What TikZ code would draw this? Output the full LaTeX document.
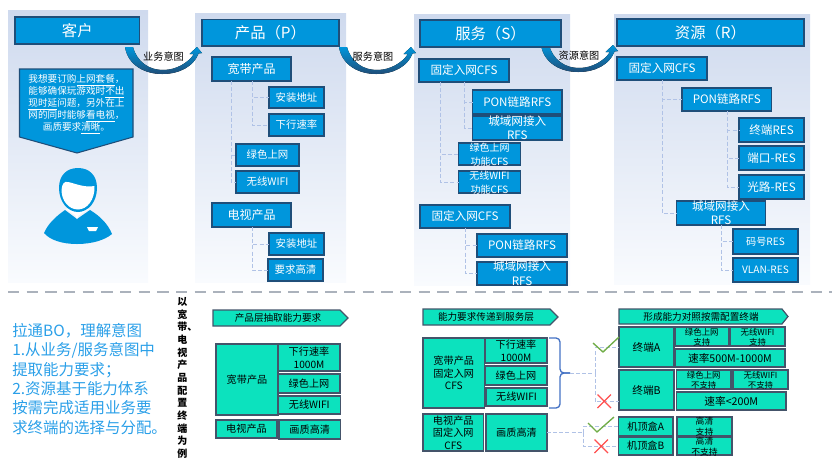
\documentclass[tikz,border=0pt]{standalone}
\usepackage{fontspec}
\setmainfont{Noto Sans CJK SC}
\usetikzlibrary{calc}
\definecolor{bluebox}{HTML}{0096DC}
\definecolor{blueedge}{HTML}{1F4E79}
\definecolor{panelt}{HTML}{CFDAEE}
\definecolor{panelb}{HTML}{F9FBFE}
\definecolor{conn}{HTML}{B0C2E6}
\definecolor{tealbox}{HTML}{0CE2BE}
\definecolor{tealedge}{HTML}{44546A}
\definecolor{lefttext}{HTML}{2A9FE8}
\definecolor{braceblue}{HTML}{4472C4}
\definecolor{okgreen}{HTML}{70AD47}
\definecolor{nored}{HTML}{FF5050}
\newcommand{\fs}[1]{\fontsize{#1}{#1}\selectfont}
% two lines that may overflow the box: does not enlarge it
\newcommand{\tl}[3]{\makebox[0pt]{\raisebox{-2pt}[0pt][0pt]{\parbox[c]{200pt}{\centering\setlength{\baselineskip}{#1}#2\\#3}}}}
\newcommand{\tll}[4]{\makebox[0pt]{\raisebox{-2pt}[0pt][0pt]{\parbox[c]{200pt}{\centering\setlength{\baselineskip}{#1}#2\\#3\\#4}}}}
\newcommand{\bx}[7][]{\node[#2,#1,minimum width={(#5-#3)*0.75pt},minimum height={(#6-#4)*0.75pt}] (#7) at ({(#3+#5)/2},{(#4+#6)/2})}
\newcommand{\blockarrow}[2]{\begin{scope}[shift={(#1,#2)}]
\fill[top color=bluebox,bottom color=blueedge,draw=none]
 (125,47) .. controls (128,66) and (146,74) .. (162,74) .. controls (180,74) and (194,66) .. (198.5,53.5)
 -- (202,53) -- (197,47) -- (189.5,54) -- (194,54) .. controls (188,63) and (176,70) .. (163,70) .. controls (149,70) and (137,62) .. (133,47) -- cycle;
\end{scope}}
\tikzset{
 bluenode/.style={draw=blueedge,line width=.8pt,fill=bluebox,text=white,inner sep=0pt,outer sep=0pt},
 tealnode/.style={draw=tealedge,line width=.9pt,fill=tealbox,text=black,inner sep=0pt,outer sep=0pt},
 panel/.style={top color=panelt,bottom color=panelb,draw=none},
 dashconn/.style={draw=conn,dash pattern=on 3pt off 1.6pt,line width=.75pt},
 arrowlabel/.style={text=black,font=\fs{7.6pt},inner sep=0pt},
 banner/.style={draw=tealedge,line width=.9pt,fill=tealbox},
 bannertext/.style={text=black,font=\fs{7.2pt},inner sep=0pt},
}
\begin{document}
\begin{tikzpicture}[x=0.75pt,y=-0.75pt]
\useasboundingbox (0,0) rectangle (832,462);
% panels
\fill[panel] (8,10) rectangle (148,282);
\fill[panel] (195,13) rectangle (346,282);
\fill[panel] (414,14) rectangle (570,285);
\fill[panel] (614,14) rectangle (810,284);
% customer
\bx[font=\fs{11.5pt}]{bluenode}{15}{17}{139.5}{44}{kh} {客户};
\draw[blueedge,line width=.8pt,fill=bluebox] (19.5,69) -- (133,69) -- (133,137) -- (77,153) -- (19.5,137) -- cycle;
\node[text=white,font=\fs{7.2pt},inner sep=0pt] (sptext) at (76.5,104.5) {\parbox[c]{110pt}{\centering\setlength{\baselineskip}{9pt}我想要订购\underline{上网套餐}，\\能够确保玩游戏时\underline{不出}\\\underline{现时延}问题，另外在上\\网的同时能够\underline{看电视}，\\画质要求\underline{清晰}。}};
% person
\fill[bluebox] (44,233) .. controls (48,224) and (55,217) .. (65,210) -- (77,219) -- (90,210) .. controls (100,216) and (108,224) .. (112,234) .. controls (105,240) and (92,244) .. (77,244) .. controls (62,244) and (50,240) .. (44,233) -- cycle;
\fill[white] (65.5,209) -- (72,207) -- (82,207) -- (89,209) -- (77,216.5) -- cycle;
\fill[white] (77,219) -- (75,214) -- (79,214) -- cycle;
\fill[bluebox] (59,188) .. controls (59,175) and (67,168) .. (78,168) .. controls (89,168) and (97,175) .. (97,188) .. controls (97,202) and (88,212) .. (78,212) .. controls (68,212) and (59,202) .. (59,188) -- cycle;
\fill[white] (61.5,190) .. controls (62,184) and (64,181) .. (68,182) .. controls (74,183) and (84,188) .. (94.5,186) .. controls (95,200) and (87,209.5) .. (78,209.5) .. controls (69,209.5) and (61.5,201) .. (61.5,190) -- cycle;
\fill[white] (87,227) -- (98,227) -- (96,231) -- (89,231) -- cycle;
% block arrows
\blockarrow{0}{0}
\blockarrow{214}{0}
\blockarrow{416}{-2}
\node[arrowlabel] (l1) at (163.5,57) {业务意图};
\node[arrowlabel] (l2) at (373,57) {服务意图};
\node[arrowlabel] (l3) at (579,56) {资源意图};
% product column
\bx[font=\fs{11.5pt}]{bluenode}{202}{19.5}{339}{46}{cp}{产品（P）};
\bx[font=\fs{9pt}]{bluenode}{212}{57}{291}{81}{pw}{宽带产品};
\bx[font=\fs{7.8pt}]{bluenode}{269}{87}{324}{108}{pa}{安装地址};
\bx[font=\fs{7.8pt}]{bluenode}{269}{114}{324}{136}{ps}{下行速率};
\bx[font=\fs{7.8pt}]{bluenode}{236}{144}{299}{166}{pg}{绿色上网};
\bx[font=\fs{7.8pt}]{bluenode}{236}{171}{299}{193}{pf}{无线WIFI};
\bx[font=\fs{9pt}]{bluenode}{212}{203}{291}{227}{pt}{电视产品};
\bx[font=\fs{7.8pt}]{bluenode}{269}{233}{324}{255}{pa2}{安装地址};
\bx[font=\fs{7.8pt}]{bluenode}{268}{259}{323}{281}{ph}{要求高清};
\draw[dashconn] ([xshift=19*.75pt]pw.south west) |- (pg.west);
\draw[dashconn] ([xshift=19*.75pt]pw.south west) |- (pf.west);
\draw[dashconn] ([xshift=40*.75pt]pw.south west) |- (pa.west);
\draw[dashconn] ([xshift=40*.75pt]pw.south west) |- (ps.west);
\draw[dashconn] ([xshift=40*.75pt]pt.south west) |- (pa2.west);
\draw[dashconn] ([xshift=40*.75pt]pt.south west) |- (ph.west);
% service column
\bx[font=\fs{11.5pt}]{bluenode}{420}{20}{561}{47}{fw}{服务（S）};
\bx[font=\fs{8.7pt}]{bluenode}{419}{59}{509}{82}{sc}{固定入网CFS};
\bx[font=\fs{8.7pt}]{bluenode}{472.5}{90}{562}{114}{sp1}{PON链路RFS};
\bx[font=\fs{8.7pt}]{bluenode}{472.5}{116}{562}{140}{sr}{\tl{11pt}{城域网接入}{RFS}};
\bx[font=\fs{7.5pt}]{bluenode}{458.5}{143}{520.5}{165}{sg}{\tl{10.4pt}{绿色上网}{功能CFS}};
\bx[font=\fs{7.5pt}]{bluenode}{458.5}{171}{520.5}{193}{sf}{\tl{10.4pt}{无线WIFI}{功能CFS}};
\bx[font=\fs{8.7pt}]{bluenode}{420}{205}{510}{228}{sc2}{固定入网CFS};
\bx[font=\fs{8.7pt}]{bluenode}{477}{234}{567}{257}{sp2}{PON链路RFS};
\bx[font=\fs{8.7pt}]{bluenode}{477}{262}{567}{285}{sr2}{\tl{11pt}{城域网接入}{RFS}};
\draw[dashconn] ([xshift=21*.75pt]sc.south west) |- (sg.west);
\draw[dashconn] ([xshift=21*.75pt]sc.south west) |- (sf.west);
\draw[dashconn] ([xshift=45.5*.75pt]sc.south west) |- (sp1.west);
\draw[dashconn] ([xshift=45.5*.75pt]sc.south west) |- (sr.west);
\draw[dashconn] ([xshift=45.5*.75pt]sc2.south west) |- (sp2.west);
\draw[dashconn] ([xshift=45.5*.75pt]sc2.south west) |- (sr2.west);
% resource column
\bx[font=\fs{11.5pt}]{bluenode}{617}{19}{804}{46}{zy}{资源（R）};
\bx[font=\fs{8.7pt}]{bluenode}{617}{57}{707}{80}{rc}{固定入网CFS};
\bx[font=\fs{8.7pt}]{bluenode}{682}{88}{771.5}{111}{rp}{PON链路RFS};
\bx[font=\fs{8.7pt}]{bluenode}{739}{118}{804}{142}{r1}{终端RES};
\bx[font=\fs{8.7pt}]{bluenode}{739}{146}{804}{170}{r2}{端口-RES};
\bx[font=\fs{8.7pt}]{bluenode}{739}{175}{804}{199}{r3}{光路-RES};
\bx[font=\fs{8.7pt}]{bluenode}{676.5}{201}{765.5}{225}{rr}{\tl{11pt}{城域网接入}{RFS}};
\bx[font=\fs{7.6pt}]{bluenode}{733}{229}{798}{254}{r4}{码号RES};
\bx[font=\fs{7.6pt}]{bluenode}{733}{258}{798}{282}{r5}{VLAN-RES};
\draw[dashconn] ([xshift=45*.75pt]rc.south west) |- (rp.west);
\draw[dashconn] ([xshift=45*.75pt]rc.south west) |- (rr.west);
\draw[dashconn] ([xshift=45*.75pt]rp.south west) |- (r1.west);
\draw[dashconn] ([xshift=45*.75pt]rp.south west) |- (r2.west);
\draw[dashconn] ([xshift=45*.75pt]rp.south west) |- (r3.west);
\draw[dashconn] ([xshift=44.5*.75pt]rr.south west) |- (r4.west);
\draw[dashconn] ([xshift=44.5*.75pt]rr.south west) |- (r5.west);
% divider
\coordinate (da) at (8,292);
\coordinate (db) at (832,292);
\draw[draw=tealedge!45,line width=1.5pt,dash pattern=on 8.5pt off 5.5pt] (da) -- (db);
% left text
\node[anchor=north west,text=lefttext,font=\fontsize{11.6pt}{14.5pt}\selectfont,inner sep=0pt,align=left] (lt) at (12,323) {拉通BO，理解意图\\1.从业务/服务意图中\\提取能力要求；\\2.资源基于能力体系\\按需完成适用业务要\\求终端的选择与分配。};
% vertical text
\node[anchor=north west,text=black,font=\fontsize{7.5pt}{9.5pt}\selectfont\bfseries,inner sep=0pt,align=left] (vt) at (177,297) {以\\宽\\带、\\电\\视\\产\\品\\配\\置\\终\\端\\为\\例};
% banners
\draw[banner] (213,310) -- (340,310) -- (348,318) -- (340,326) -- (213,326) -- cycle;
\node[bannertext] (b1) at (278,318) {产品层抽取能力要求};
\draw[banner] (423,309) -- (550,309) -- (558,317) -- (550,325) -- (423,325) -- cycle;
\node[bannertext] (b2) at (486,317) {能力要求传递到服务层};
\draw[banner] (619,309) -- (782,309) -- (788,316.5) -- (782,324) -- (619,324) -- cycle;
\node[bannertext] (b3) at (701,316.5) {形成能力对照按需配置终端};
% lower group 1
\bx[font=\fs{7.6pt}]{tealnode}{216}{344}{278}{415}{a1}{宽带产品};
\bx[font=\fs{7.6pt}]{tealnode}{278}{344}{340}{371}{a2}{\tl{9.5pt}{下行速率}{1000M}};
\bx[font=\fs{7.6pt}]{tealnode}{278}{374}{340}{393}{a3}{绿色上网};
\bx[font=\fs{7.6pt}]{tealnode}{278}{396}{340.5}{414}{a4}{无线WIFI};
\bx[font=\fs{7.6pt}]{tealnode}{216}{420}{277}{438}{a5}{电视产品};
\bx[font=\fs{7.6pt}]{tealnode}{279}{420}{340.5}{439}{a6}{画质高清};
% lower group 2
\bx[font=\fs{7.6pt}]{tealnode}{423}{338}{484.5}{408}{c1}{\tll{9.4pt}{宽带产品}{固定入网}{CFS}};
\bx[font=\fs{7.6pt}]{tealnode}{485}{338}{547}{363}{c2}{\tl{9.4pt}{下行速率}{1000M}};
\bx[font=\fs{7.6pt}]{tealnode}{485}{366}{547}{385}{c3}{绿色上网};
\bx[font=\fs{7.6pt}]{tealnode}{486}{388}{547}{406}{c4}{无线WIFI};
\bx[font=\fs{7.6pt}]{tealnode}{423}{414}{483.5}{451}{c5}{\tll{9.4pt}{电视产品}{固定入网}{CFS}};
\bx[font=\fs{7.6pt}]{tealnode}{486}{414}{547}{451}{c6}{画质高清};
% lower group 3
\bx[font=\fs{8pt}]{tealnode}{619}{327}{674}{367}{ta}{终端A};
\bx[font=\fs{6.3pt}]{tealnode}{675}{327}{728.5}{346}{ta1}{\tl{8pt}{绿色上网}{支持}};
\bx[font=\fs{6.3pt}]{tealnode}{730}{327}{785}{346}{ta2}{\tl{8pt}{无线WIFI}{支持}};
\bx[font=\fs{8pt}]{tealnode}{675}{349}{785}{367}{ta3}{速率500M-1000M};
\bx[font=\fs{8pt}]{tealnode}{619}{370}{674}{410}{tb}{终端B};
\bx[font=\fs{6.3pt}]{tealnode}{676.5}{370}{731}{389}{tb1}{\tl{8pt}{绿色上网}{不支持}};
\bx[font=\fs{6.3pt}]{tealnode}{733}{370}{788}{389}{tb2}{\tl{8pt}{无线WIFI}{不支持}};
\bx[font=\fs{8pt}]{tealnode}{676.5}{392}{786}{410}{tb3}{速率<200M};
\bx[font=\fs{7.6pt}]{tealnode}{618.5}{417}{673}{436}{sa}{机顶盒A};
\bx[font=\fs{6.6pt}]{tealnode}{677}{417}{732}{436}{sa1}{\tl{8.4pt}{高清}{支持}};
\bx[font=\fs{7.6pt}]{tealnode}{618.5}{437}{673}{455}{sb}{机顶盒B};
\bx[font=\fs{6.6pt}]{tealnode}{677}{437}{732}{455}{sb1}{\tl{8.4pt}{高清}{不支持}};
% brace and connectors
\coordinate (bt) at (570,373);
\coordinate (j1) at (595,373);
\coordinate (j2) at (583,432.5);
\draw[braceblue,line width=1pt,rounded corners=3pt] (549,338) -- (560,338) -- (560,373) -- (bt);
\draw[braceblue,line width=1pt,rounded corners=3pt] (549,408) -- (560,408) -- (560,373) -- (bt);
\draw[dashconn] (bt) -- (j1);
\draw[dashconn] (j1) |- (ta.west);
\draw[dashconn] (j1) |- ([yshift=-8.5pt]tb.west);
\draw[dashconn] (c6.east) -- (j2);
\draw[dashconn] (j2) |- (sa.west);
\draw[dashconn] (j2) |- (sb.west);
% checks and crosses
\draw[okgreen,line width=1pt] (593,343) -- (603,352) -- (619,337);
\draw[okgreen,line width=1pt] (588,423) -- (597,432) -- (614,417);
\draw[nored,line width=1pt] (597.5,394.5) -- (611,408) (597.5,408) -- (611,394.5);
\draw[nored,line width=1pt] (594.5,439.5) -- (608,453) (594.5,453) -- (608,439.5);
\end{tikzpicture}
\end{document}
